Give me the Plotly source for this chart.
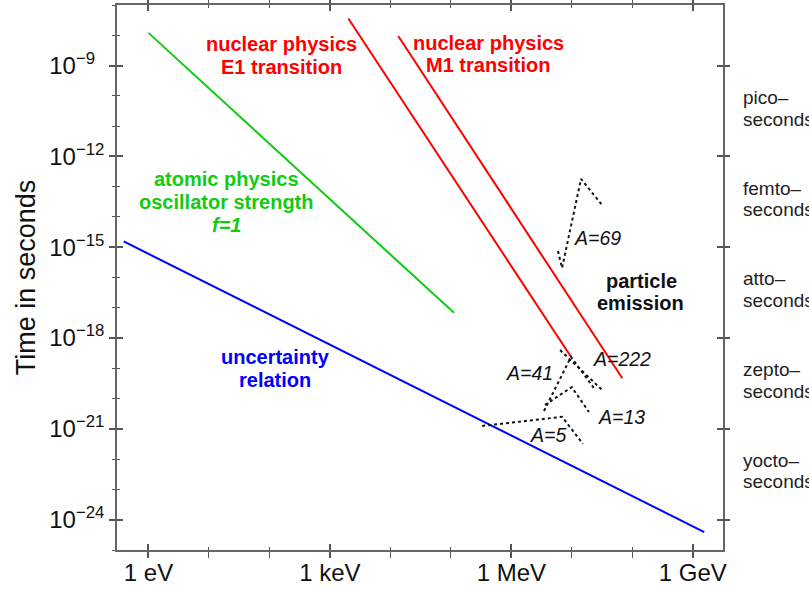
import plotly.graph_objects as go

# ---------------- data (energy in eV, time in seconds) ----------------
unc_E = [0.39, 1.55e9]
unc_t = [1.55e-15, 3.9e-25]

osc_E = [1.0, 1.13e5]
osc_t = [1.2e-8, 6.8e-18]

e1_E = [2.02e3, 9.7e6]
e1_t = [3.6e-8, 2.4e-19]

m1_E = [1.35e4, 6.84e7]
m1_t = [9.5e-9, 4.7e-20]

a69_E = [5.9e6, 6.9e6, 1.42e7, 3.16e7]
a69_t = [7.5e-16, 2.06e-16, 1.8e-13, 2.5e-14]

a222_E = [6.4e6, 3.2e7]
a222_t = [4.0e-19, 1.9e-20]

a41_E = [3.47e6, 9.7e6, 2.33e7]
a41_t = [3.9e-21, 2.4e-19, 2.2e-20]

a13_E = [3.6e6, 1.0e7, 1.92e7]
a13_t = [6.2e-21, 2.4e-20, 3.6e-21]

a5_E = [3.3e5, 6.9e6, 1.53e7]
a5_t = [1.25e-21, 2.5e-21, 3.2e-22]

x_tickvals = [1, 1e3, 1e6, 1e9]
x_ticktext = ["1 eV", "1 keV", "1 MeV", "1 GeV"]
x_minor = [10.0 ** k for k in range(0, 10) if k % 3 != 0]

y_tickvals = [1e-9, 1e-12, 1e-15, 1e-18, 1e-21, 1e-24]
y_ticktext = ["10<sup>\u22129\u2007</sup>", "10<sup>\u221212</sup>", "10<sup>\u221215</sup>",
              "10<sup>\u221218</sup>", "10<sup>\u221221</sup>", "10<sup>\u221224</sup>"]
y_minor = [10.0 ** (-k) for k in range(7, 26) if k % 3 != 0]

prefixes = ["pico\u2013", "femto\u2013", "atto\u2013", "zepto\u2013", "yocto\u2013"]

# ---------------- styling ----------------
FONT = "Liberation Sans, Arial, Helvetica, sans-serif"
RED = "#ff0000"
GREEN = "#11cc11"
BLUE = "#0000ff"
AXC = "#666666"
TKC = "#555555"

W, H = 809, 590
L, R, T, B = 117, 86, 5, 40
PW, PH = W - L - R, H - T - B
XR = [-0.52, 9.5]
YR = [-25, -7]


def px(x):
    return (x - L) / PW


def py(y):
    return (H - B - y) / PH


fig = go.Figure()

fig.add_trace(go.Scatter(x=unc_E, y=unc_t, mode="lines", line=dict(color=BLUE, width=2), hoverinfo="skip"))
fig.add_trace(go.Scatter(x=osc_E, y=osc_t, mode="lines", line=dict(color=GREEN, width=2), hoverinfo="skip"))
fig.add_trace(go.Scatter(x=e1_E, y=e1_t, mode="lines", line=dict(color=RED, width=2), hoverinfo="skip"))
fig.add_trace(go.Scatter(x=m1_E, y=m1_t, mode="lines", line=dict(color=RED, width=2), hoverinfo="skip"))
for ex, tx in [(a69_E, a69_t), (a222_E, a222_t), (a41_E, a41_t), (a13_E, a13_t), (a5_E, a5_t)]:
    fig.add_trace(go.Scatter(x=ex, y=tx, mode="lines",
                             line=dict(color="#111111", width=2, dash="3px,3px"), hoverinfo="skip"))

# invisible traces to create the overlay axes (crossing ticks)
fig.add_trace(go.Scatter(x=[None], y=[None], xaxis="x2", yaxis="y2", showlegend=False, hoverinfo="skip"))
fig.add_trace(go.Scatter(x=[None], y=[None], xaxis="x", yaxis="y3", showlegend=False, hoverinfo="skip"))
fig.add_trace(go.Scatter(x=[None], y=[None], xaxis="x", yaxis="y4", showlegend=False, hoverinfo="skip"))

common_x = dict(type="log", range=XR, tickmode="array", tickvals=x_tickvals, automargin=False,
                showgrid=False, zeroline=False, tickcolor=TKC, tickwidth=1.5, ticklen=6)
common_y = dict(type="log", range=YR, tickmode="array", tickvals=y_tickvals, automargin=False,
                showgrid=False, zeroline=False, tickcolor=TKC, tickwidth=1.5, ticklen=6)

fig.update_layout(
    width=W, height=H,
    margin=dict(l=L, r=R, t=T, b=B, pad=0, autoexpand=False),
    paper_bgcolor="white", plot_bgcolor="white",
    showlegend=False,
    font=dict(family=FONT, color="#111111"),
    xaxis=dict(**common_x, ticktext=x_ticktext, ticks="outside", ticklabelstandoff=-6,
               minor=dict(tickvals=x_minor, ticks="outside", ticklen=3, tickwidth=1.2, tickcolor=TKC),
               showline=True, linecolor=AXC, linewidth=1.5, mirror="allticks",
               tickfont=dict(size=24, family=FONT, color="#111111"), anchor="y"),
    xaxis2=dict(**common_x, overlaying="x", ticks="inside", showticklabels=False,
                minor=dict(tickvals=x_minor, ticks="inside", ticklen=3, tickwidth=1.2, tickcolor=TKC),
                showline=False, mirror="allticks", anchor="y2"),
    yaxis=dict(**common_y, ticktext=y_ticktext, ticks="outside",
               minor=dict(tickvals=y_minor, ticks="outside", ticklen=3, tickwidth=1.2, tickcolor=TKC),
               showline=True, linecolor=AXC, linewidth=1.5, mirror=True,
               tickfont=dict(size=24, family=FONT, color="#111111"),
               title=dict(text="Time in seconds", font=dict(size=27, family=FONT, color="#111111"), standoff=6),
               anchor="x"),
    yaxis2=dict(**common_y, overlaying="y", ticks="inside", showticklabels=False,
                minor=dict(tickvals=y_minor, ticks="inside", ticklen=3, tickwidth=1.2, tickcolor=TKC),
                showline=False, anchor="x2"),
    yaxis3=dict(**common_y, overlaying="y", side="right", ticks="outside", showticklabels=False,
                showline=False, anchor="x"),
    yaxis4=dict(**common_y, overlaying="y", side="right", ticks="inside", showticklabels=False,
                showline=False, anchor="x"),
)

ann = []


def label(text, x, y, color, size=20, xanchor="center"):
    ann.append(dict(text=text, x=px(x), y=py(y), xref="paper", yref="paper",
                    xanchor=xanchor, yanchor="middle", showarrow=False,
                    font=dict(size=size, color=color, family=FONT)))


label("<b>nuclear physics</b>", 281.5, 44, RED)
label("<b>E1 transition</b>", 281.5, 67, RED)
label("<b>nuclear physics</b>", 488.5, 43, RED)
label("<b>M1 transition</b>", 488, 65, RED)
label("<b>atomic physics</b>", 226, 179, GREEN)
label("<b>oscillator strength</b>", 226, 202, GREEN)
label("<b><i>f=1</i></b>", 226, 225, GREEN)
label("<b>uncertainty</b>", 275.5, 357, BLUE)
label("<b>relation</b>", 275, 380, BLUE)
label("<b>particle</b>", 641, 281, "#111111")
label("<b>emission</b>", 640.5, 303, "#111111")
label("<i>A=69</i>", 597, 238, "#111111", size=19.5)
label("<i>A=222</i>", 621.5, 359, "#111111", size=19.5)
label("<i>A=41</i>", 529, 373, "#111111", size=19.5)
label("<i>A=13</i>", 621.5, 417, "#111111", size=19.5)
label("<i>A=5</i>", 548, 435, "#111111", size=19.5)

for k, p in enumerate(prefixes):
    label(p, 741, 97.5 + 90.7 * k, "#222222", size=19, xanchor="left")
    label("seconds", 741, 119 + 90.7 * k, "#222222", size=19, xanchor="left")

fig.update_layout(annotations=ann)

fig.write_html("out.html")
